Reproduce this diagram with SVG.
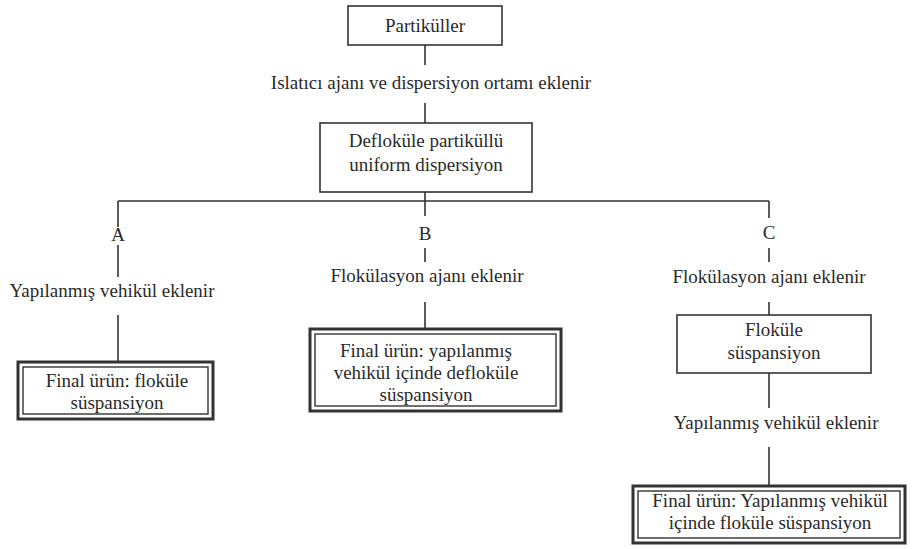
<svg xmlns="http://www.w3.org/2000/svg" width="924" height="549" viewBox="0 0 924 549">
<style>
.bg{fill:#fff}
.box{fill:none;stroke:#333;stroke-width:1.6}
.fo{fill:none;stroke:#333;stroke-width:3}
.fi{fill:none;stroke:#333;stroke-width:1.4}
.ln{fill:none;stroke:#333;stroke-width:1.6}
.t text{fill:#2a2a2a;text-anchor:middle}
</style>
<rect class="bg" width="924" height="549"/>
<g id="connectors">
<path class="ln" d="M425 45V65 M425 103V123 M425 192V201 M118 201H769 M118 201V227 M118 245V277 M118 315V362 M425 201V216 M425 248V262 M425 302V329 M769 201V218 M769 248V262 M769 302V315 M769 373V408 M769 447V486"/>
</g>
<g class="t" font-family="Liberation Serif, Times New Roman, serif" font-size="19">
<g id="n-partikuller"><rect class="box" x="348" y="6" width="154" height="39"/><text x="425" y="32">Partiküller</text></g>
<g id="l-islatici"><text x="431" y="89">Islatıcı ajanı ve dispersiyon ortamı eklenir</text></g>
<g id="n-deflokule"><rect class="box" x="320" y="123" width="212" height="69"/><text x="426" y="147">Defloküle partiküllü</text><text x="426" y="171">uniform dispersiyon</text></g>
<g id="l-a"><text x="118" y="241">A</text></g>
<g id="l-b"><text x="425" y="240">B</text></g>
<g id="l-c"><text x="769" y="239">C</text></g>
<g id="l-a-yap"><text x="112" y="297">Yapılanmış vehikül eklenir</text></g>
<g id="l-b-flok"><text x="427" y="282">Flokülasyon ajanı eklenir</text></g>
<g id="l-c-flok"><text x="769" y="283">Flokülasyon ajanı eklenir</text></g>
<g id="n-final-a"><rect class="fo" x="18" y="362" width="195" height="57"/><rect class="fi" x="23" y="367" width="185" height="47"/><text x="117" y="387">Final ürün:  floküle</text><text x="117" y="409">süspansiyon</text></g>
<g id="n-final-b"><rect class="fo" x="310" y="329" width="251" height="82"/><rect class="fi" x="315" y="334" width="241" height="72"/><text x="426" y="357">Final ürün: yapılanmış</text><text x="426" y="379">vehikül içinde defloküle</text><text x="426" y="401">süspansiyon</text></g>
<g id="n-flokule"><rect class="box" x="677" y="315" width="194" height="58"/><text x="774" y="336">Floküle</text><text x="774" y="359">süspansiyon</text></g>
<g id="l-c-yap"><text x="776" y="429">Yapılanmış vehikül eklenir</text></g>
<g id="n-final-c"><rect class="fo" x="633" y="486" width="272" height="57"/><rect class="fi" x="638" y="491" width="262" height="47"/><text x="770" y="507">Final ürün: Yapılanmış vehikül</text><text x="770" y="529">içinde floküle süspansiyon</text></g>
</g>
</svg>
